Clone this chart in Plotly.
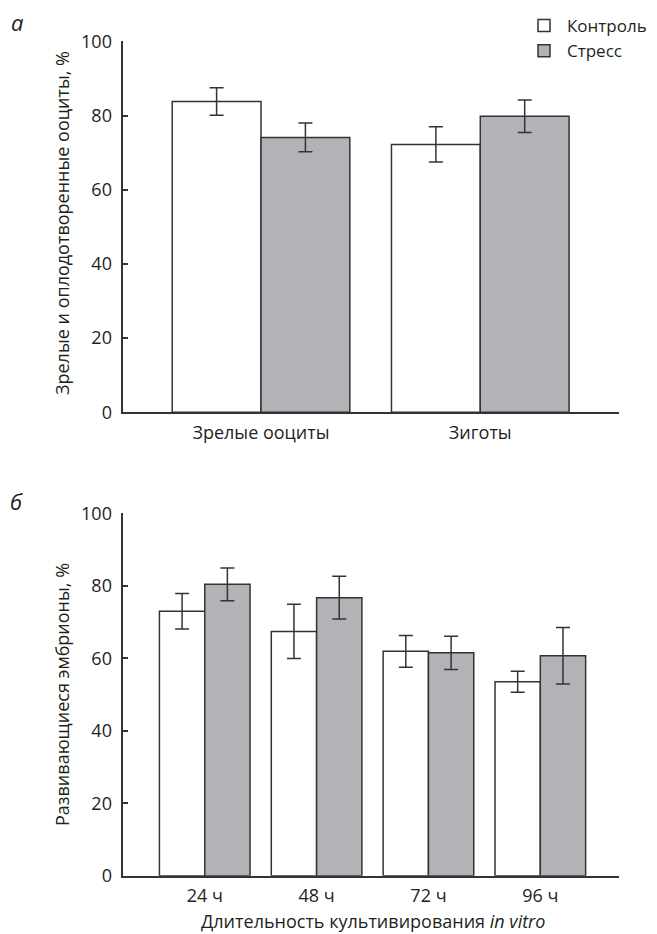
import plotly.graph_objects as go

# ---- data ----
top_categories = ["Зрелые ооциты", "Зиготы"]
top_control = [83.8, 72.2]
top_control_err = [3.7, 4.75]
top_stress = [74.1, 79.8]
top_stress_err = [3.85, 4.4]

bottom_categories = ["24 ч", "48 ч", "72 ч", "96 ч"]
bottom_control = [73.0, 67.4, 61.9, 53.5]
bottom_control_err = [4.9, 7.5, 4.4, 2.9]
bottom_stress = [80.4, 76.7, 61.5, 60.7]
bottom_stress_err = [4.5, 5.9, 4.6, 7.8]

series_names = ["Контроль", "Стресс"]
y_ticks = [0, 20, 40, 60, 80, 100]

# ---- styles ----
# The page body has an 8px default margin, so the figure is sized to fit
# the 657x934 window and all target positions are offset by that margin.
PAGE_OFF = 8
W, H = 657 - PAGE_OFF, 934 - PAGE_OFF
FONT = "Open Sans"
TXT = "#231f20"
EDGE = "#333333"
CTRL_FILL = "#ffffff"
STRESS_FILL = "#b2b3b6"


def px_x(x):
    return (x - PAGE_OFF) / W


def px_y(y):
    return 1 - (y - PAGE_OFF) / H


fig = go.Figure()

def add_bars(cats, vals, errs, name, fill, xa, ya, show):
    fig.add_trace(go.Bar(
        x=cats, y=vals, name=name, xaxis=xa, yaxis=ya,
        marker=dict(color=fill, line=dict(color=EDGE, width=1.5)),
        error_y=dict(type="data", array=errs, visible=True, color=EDGE,
                     thickness=1.5, width=7),
        showlegend=show, legendgroup=name,
    ))

add_bars(top_categories, top_control, top_control_err, series_names[0], CTRL_FILL, "x", "y", True)
add_bars(top_categories, top_stress, top_stress_err, series_names[1], STRESS_FILL, "x", "y", True)
add_bars(bottom_categories, bottom_control, bottom_control_err, series_names[0], CTRL_FILL, "x2", "y2", False)
add_bars(bottom_categories, bottom_stress, bottom_stress_err, series_names[1], STRESS_FILL, "x2", "y2", False)

x_dom = [px_x(123.3), px_x(619.3)]
axis_common = dict(showgrid=False, zeroline=False, showline=True,
                   linecolor=EDGE, linewidth=1.5,
                   tickfont=dict(family=FONT, size=18, color=TXT))

fig.update_layout(
    width=W, height=H,
    margin=dict(l=0, r=0, t=0, b=0, autoexpand=False),
    paper_bgcolor="white", plot_bgcolor="white",
    barmode="group", bargap=0.19, bargroupgap=0,
    font=dict(family=FONT, color=TXT),
    xaxis=dict(domain=x_dom, anchor="y", range=[-0.628, 1.634],
               ticks="", ticklabelstandoff=3, **axis_common),
    yaxis=dict(domain=[px_y(412.3), px_y(41.3)], anchor="x", range=[0, 100],
               tickvals=y_ticks, ticks="inside", ticklen=5, tickwidth=1.5,
               tickcolor=EDGE, ticklabelstandoff=6, **axis_common),
    xaxis2=dict(domain=x_dom, anchor="y2", range=[-0.728, 3.706],
                ticks="", ticklabelstandoff=3, **axis_common),
    yaxis2=dict(domain=[px_y(875.7), px_y(513.3)], anchor="x2", range=[0, 100],
                tickvals=y_ticks, ticks="inside", ticklen=5, tickwidth=1.5,
                tickcolor=EDGE, ticklabelstandoff=6, **axis_common),
    legend=dict(x=px_x(521), y=px_y(8), xanchor="left", yanchor="top",
                bgcolor="rgba(0,0,0,0)", font=dict(family=FONT, size=17, color=TXT),
                itemwidth=36, tracegroupgap=0),
)

ann = [
    dict(text="Зрелые и оплодотворенные ооциты, %", x=px_x(62), y=px_y(223),
         textangle=-90, font=dict(size=18)),
    dict(text="Развивающиеся эмбрионы, %", x=px_x(62), y=px_y(695),
         textangle=-90, font=dict(size=18)),
    dict(text="Длительность культивирования <i>in vitro</i>", x=px_x(373), y=px_y(921),
         font=dict(size=18)),
    dict(text="<i>а</i>", x=px_x(17), y=px_y(22), font=dict(size=22)),
    dict(text="<i>б</i>", x=px_x(16), y=px_y(501), font=dict(size=22)),
]
for a in ann:
    a.update(xref="paper", yref="paper", showarrow=False,
             xanchor="center", yanchor="middle")
    a["font"].update(family=FONT, color=TXT)
fig.update_layout(annotations=ann)

fig.write_html("out.html")
